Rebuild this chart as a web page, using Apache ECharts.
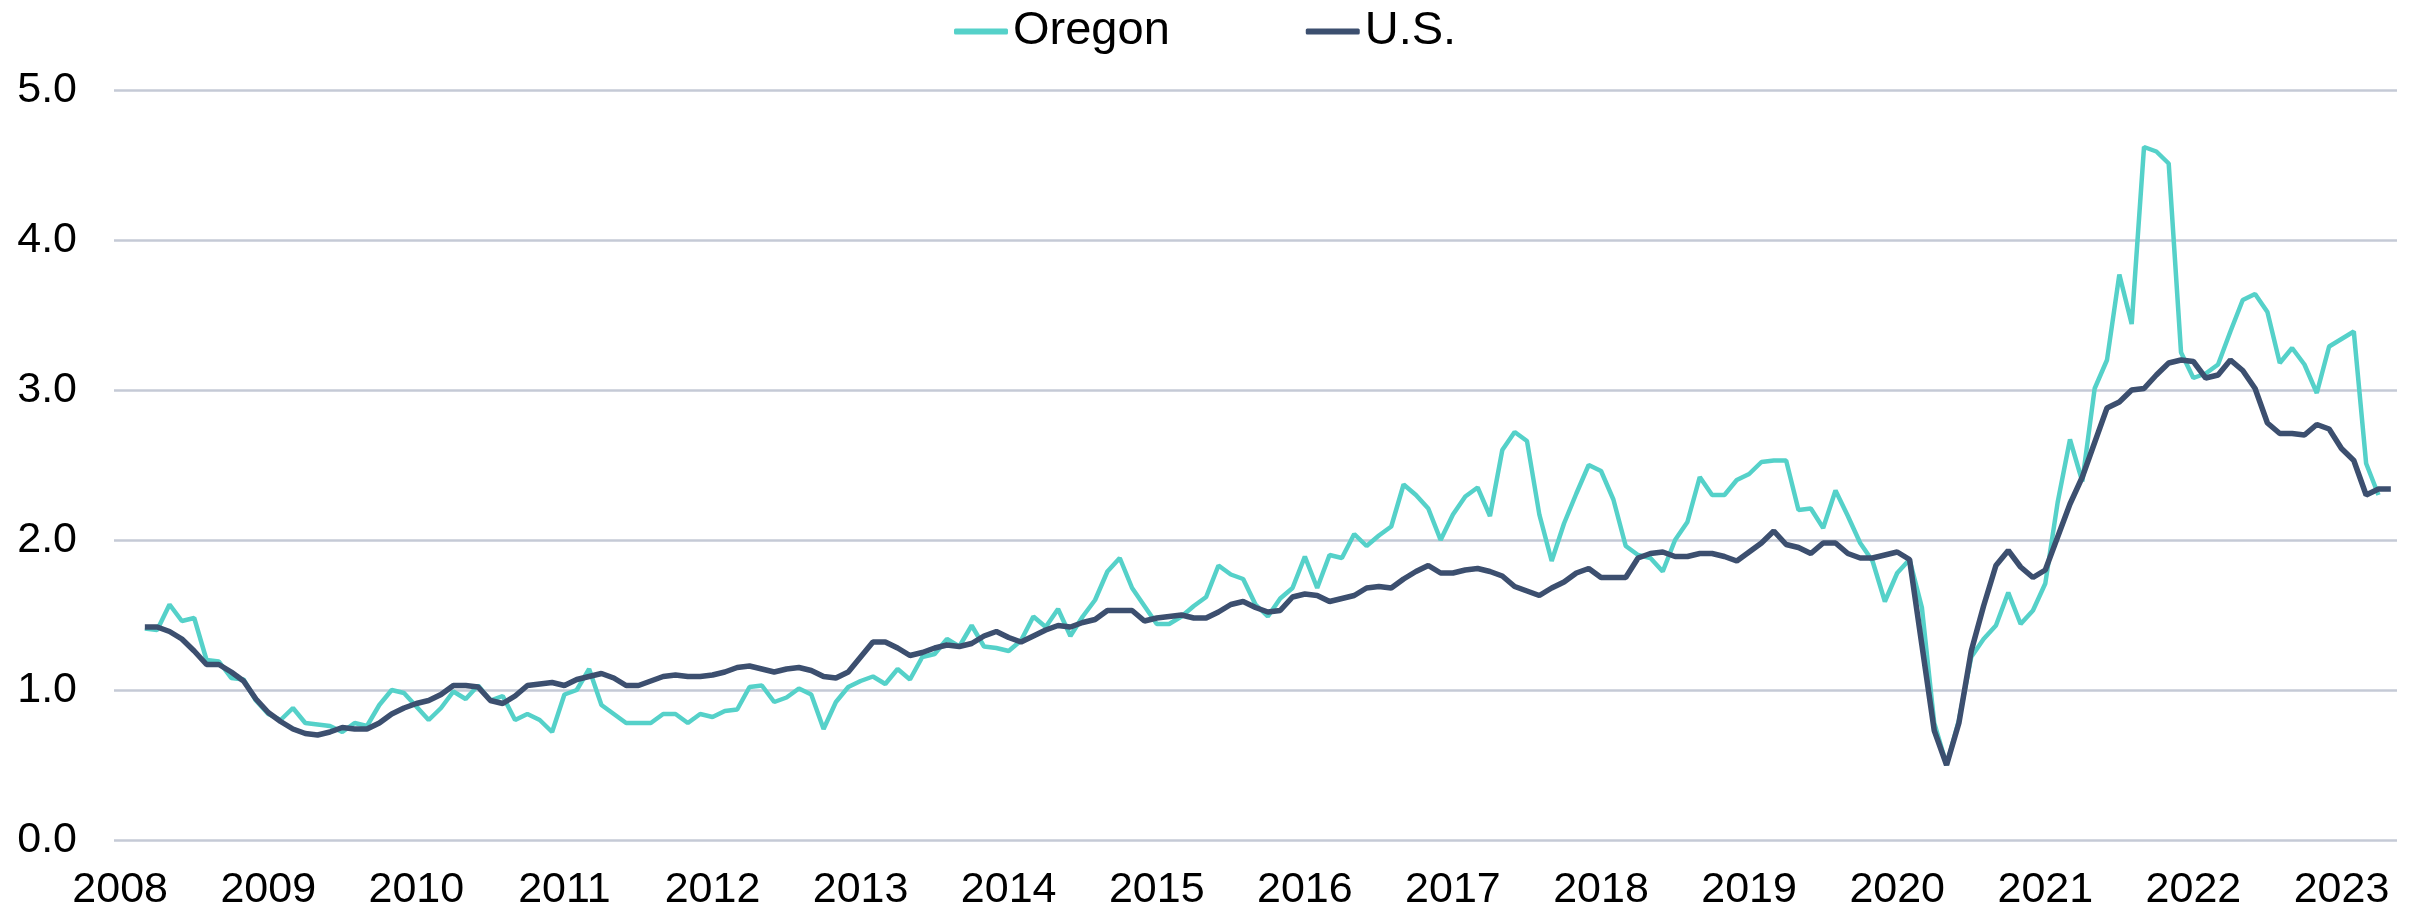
<!DOCTYPE html>
<html>
<head>
<meta charset="utf-8">
<script src="https://cdn.jsdelivr.net/npm/echarts@6/dist/echarts.min.js"></script>
<style>
html,body{margin:0;padding:0;background:#fff;}
#chart{width:2420px;height:913px;}
</style>
</head>
<body>
<div id="chart"></div>
<script>
// Axis years (x-axis shows January of each year), data are monthly
const years = [2008,2009,2010,2011,2012,2013,2014,2015,2016,2017,2018,2019,2020,2021,2022,2023];
const lastYearMonths = 5; // Jan..May 2023 on the axis
const seriesStart = 2; // data begin in March 2008 (month index 2)

// Oregon, monthly from Mar 2008 to May 2023 (May 2023 not yet available)
const oregon = [
  1.41,1.40,1.57,1.46,1.48,1.20,1.19,1.08,1.07,0.93,
  0.84,0.80,0.88,0.78,0.77,0.76,0.72,0.78,0.76,0.90,1.00,0.98,
  0.89,0.80,0.88,0.99,0.94,1.03,0.93,0.96,0.80,0.84,0.80,0.72,
  0.97,1.00,1.14,0.90,0.84,0.78,0.78,0.78,0.84,0.84,0.78,0.84,
  0.82,0.86,0.87,1.02,1.03,0.92,0.95,1.01,0.97,0.74,0.92,1.02,
  1.06,1.09,1.04,1.14,1.07,1.22,1.24,1.34,1.29,1.43,1.29,1.28,
  1.26,1.33,1.49,1.42,1.54,1.36,1.49,1.60,1.79,1.88,1.68,1.56,
  1.44,1.44,1.49,1.56,1.62,1.83,1.77,1.74,1.57,1.49,1.61,1.68,
  1.89,1.68,1.90,1.88,2.04,1.96,2.03,2.09,2.37,2.30,2.21,2.00,
  2.17,2.29,2.35,2.16,2.60,2.72,2.66,2.17,1.86,2.11,2.31,2.50,
  2.46,2.27,1.96,1.90,1.88,1.79,2.00,2.12,2.42,2.30,2.30,2.40,
  2.44,2.52,2.53,2.53,2.20,2.21,2.08,2.33,2.16,1.98,1.86,1.59,
  1.78,1.87,1.55,0.78,0.50,0.80,1.22,1.34,1.43,1.65,1.44,1.53,
  1.71,2.25,2.67,2.39,3.01,3.20,3.77,3.44,4.62,4.59,4.51,3.25,
  3.08,3.11,3.17,3.39,3.60,3.64,3.52,3.18,3.28,3.17,2.98,3.29,
  3.34,3.39,2.51,2.30,null
];

// U.S., monthly from Mar 2008 to May 2023
const us = [
  1.42,1.42,1.39,1.34,1.26,1.17,1.17,1.12,1.06,0.94,
  0.85,0.79,0.74,0.71,0.70,0.72,0.75,0.74,0.74,0.78,0.84,0.88,
  0.91,0.93,0.97,1.03,1.03,1.02,0.93,0.91,0.96,1.03,1.04,1.05,
  1.03,1.07,1.09,1.11,1.08,1.03,1.03,1.06,1.09,1.10,1.09,1.09,
  1.10,1.12,1.15,1.16,1.14,1.12,1.14,1.15,1.13,1.09,1.08,1.12,
  1.22,1.32,1.32,1.28,1.23,1.25,1.28,1.30,1.29,1.31,1.36,1.39,
  1.35,1.32,1.36,1.40,1.43,1.42,1.45,1.47,1.53,1.53,1.53,1.46,
  1.48,1.49,1.50,1.48,1.48,1.52,1.57,1.59,1.55,1.52,1.53,1.62,
  1.64,1.63,1.59,1.61,1.63,1.68,1.69,1.68,1.74,1.79,1.83,1.78,
  1.78,1.80,1.81,1.79,1.76,1.69,1.66,1.63,1.68,1.72,1.78,1.81,
  1.75,1.75,1.75,1.88,1.91,1.92,1.89,1.89,1.91,1.91,1.89,1.86,
  1.92,1.98,2.06,1.97,1.95,1.91,1.98,1.98,1.91,1.88,1.88,1.90,
  1.92,1.87,1.30,0.73,0.50,0.78,1.26,1.56,1.83,1.93,1.82,1.75,
  1.80,2.02,2.24,2.42,2.65,2.88,2.92,3.00,3.01,3.10,3.18,3.20,
  3.19,3.08,3.10,3.20,3.13,3.01,2.78,2.71,2.71,2.70,2.77,2.74,
  2.61,2.53,2.30,2.34,2.34
];

const yTicks = [0,1,2,3,4,5];

// build monthly categories
const categories = [];
years.forEach((y, k) => {
  const n = (k === years.length - 1) ? lastYearMonths : 12;
  for (let m = 1; m <= n; m++) categories.push(y + '-' + String(m).padStart(2, '0'));
});
function pad(arr){ const out = new Array(seriesStart).fill(null).concat(arr); while(out.length < categories.length) out.push(null); return out; }

const chart = echarts.init(document.getElementById('chart'), null, {renderer:'canvas'});
const FONT = "'Liberation Sans', Arial, sans-serif";
chart.setOption({
  animation: false,
  backgroundColor: '#ffffff',
  textStyle: { fontFamily: FONT },
  legend: {
    left: 949, top: 3,
    itemWidth: 54, itemHeight: 6, itemGap: 136,
    icon: 'roundRect',
    textStyle: { fontSize: 47, color: '#000', fontFamily: FONT },
    data: ['Oregon', 'U.S.']
  },
  grid: { left: 114, right: 23, top: 90, bottom: 73, containLabel: false },
  xAxis: {
    type: 'category',
    data: categories,
    boundaryGap: true,
    axisLine: { show: false },
    axisTick: { show: false },
    splitLine: { show: false },
    axisLabel: {
      interval: function (idx) { return idx % 12 === 0; },
      formatter: function (v) { return v.slice(0, 4); },
      fontSize: 43, color: '#000', margin: 29, fontFamily: FONT
    }
  },
  yAxis: {
    type: 'value',
    min: yTicks[0], max: yTicks[yTicks.length - 1], interval: 1,
    axisLine: { show: false },
    axisTick: { show: false },
    splitLine: { show: true, lineStyle: { color: '#c5cad6', width: 2.5 } },
    axisLabel: {
      formatter: function (v) { return v.toFixed(1); },
      fontSize: 43, color: '#000', margin: 37, fontFamily: FONT
    }
  },
  series: [
    {
      name: 'Oregon', type: 'line', data: pad(oregon),
      symbol: 'none', connectNulls: false,
      lineStyle: { color: '#55d1c9', width: 4.5 },
      itemStyle: { color: '#55d1c9' }
    },
    {
      name: 'U.S.', type: 'line', data: pad(us),
      symbol: 'none',
      lineStyle: { color: '#3c4f6f', width: 5.5 },
      itemStyle: { color: '#3c4f6f' }
    }
  ]
});
</script>
</body>
</html>
